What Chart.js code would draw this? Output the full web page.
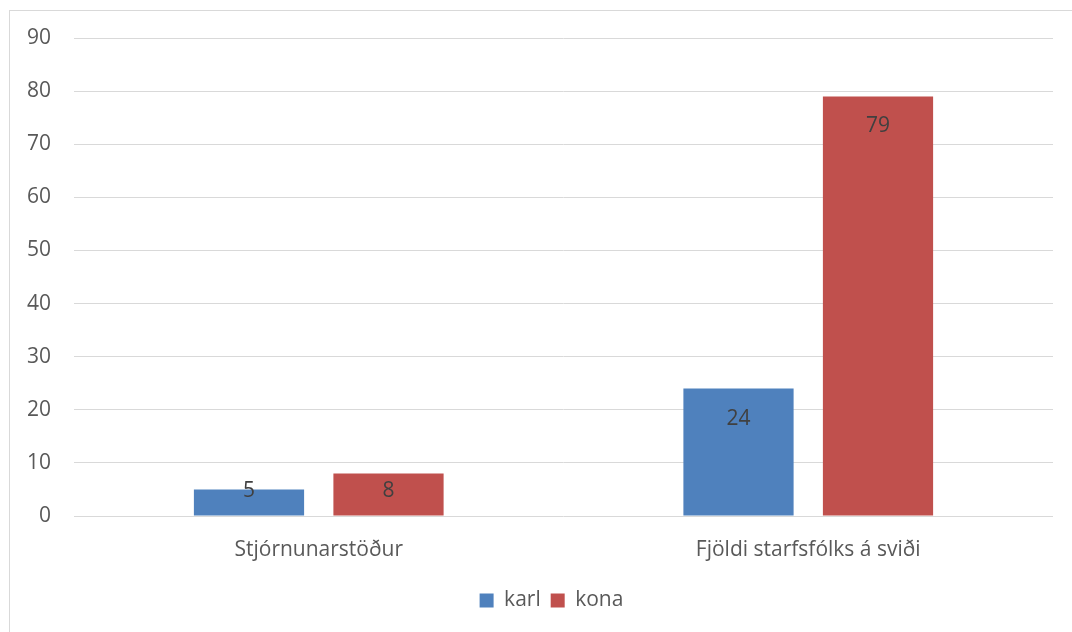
<!DOCTYPE html>
<html>
<head>
<meta charset="utf-8">
<script src="https://cdn.jsdelivr.net/npm/chart.js@4"></script>
<style>
  html, body { margin: 0; padding: 0; background: #fff; overflow: hidden; }
  #wrap { position: relative; width: 1072px; height: 632px; }
  #frame { position: absolute; left: 9px; top: 10px; width: 1100px; height: 700px; border: 1px solid #D9D9D9; box-sizing: border-box; }
  canvas { position: absolute; left: 0; top: 0; }
</style>
</head>
<body>
<div id="wrap">
  <div id="frame"></div>
  <canvas id="chart" width="1072" height="632"></canvas>
</div>
<script>
const categories = ['Stjórnunarstöður', 'Fjöldi starfsfólks á sviði'];
const karl = [5, 24];
const kona = [8, 79];
const yTicks = [0, 10, 20, 30, 40, 50, 60, 70, 80, 90];

const textColor = '#595959';
const fontFamily = "'Open Sans', 'Noto Sans', sans-serif";
const fontSize = 21;

// value labels near the inside top of each bar
const barLabels = {
    id: 'barLabels',
    afterDatasetsDraw(chart) {
        const ctx = chart.ctx;
        const base = chart.scales.y.getPixelForValue(0);
        ctx.save();
        ctx.fillStyle = '#404040';
        ctx.font = fontSize + 'px ' + fontFamily;
        ctx.textAlign = 'center';
        ctx.textBaseline = 'middle';
        chart.data.datasets.forEach((ds, i) => {
            chart.getDatasetMeta(i).data.forEach((bar, j) => {
                const y = Math.min(bar.y + 30, base - 25);
                ctx.fillText(String(ds.data[j]), bar.x, y);
            });
        });
        ctx.restore();
    }
};

// centre the legend under the plot area rather than the whole canvas
const legendShift = {
    id: 'legendShift',
    afterLayout(chart) {
        const lg = chart.legend;
        if (!lg) return;
        const dx = (chart.chartArea.left + chart.chartArea.right) / 2 - (lg.left + lg.right) / 2 - 12;
        lg.left += dx;
        lg.right += dx;
    }
};

new Chart(document.getElementById('chart').getContext('2d'), {
    type: 'bar',
    data: {
        labels: categories,
        datasets: [
            { label: 'karl', data: karl, backgroundColor: '#4F81BD' },
            { label: 'kona', data: kona, backgroundColor: '#C0504D' }
        ]
    },
    options: {
        responsive: false,
        animation: false,
        categoryPercentage: 0.57,
        barPercentage: 0.79,
        layout: { padding: { top: 38, right: 19, left: 0, bottom: 11 } },
        scales: {
            x: {
                grid: { display: false },
                border: { display: false },
                ticks: { color: textColor, font: { family: fontFamily, size: fontSize }, padding: 13 },
                afterFit(scale) { scale.height = 64; }
            },
            y: {
                min: 0,
                max: 90,
                afterBuildTicks(scale) { scale.ticks = yTicks.map(v => ({ value: v })); },
                grid: { color: '#D9D9D9', lineWidth: 1, drawTicks: false },
                border: { display: false },
                ticks: { color: textColor, font: { family: fontFamily, size: fontSize }, padding: 23 },
                afterFit(scale) { scale.width = 74; }
            }
        },
        plugins: {
            legend: {
                position: 'bottom',
                labels: {
                    color: textColor,
                    font: { family: fontFamily, size: fontSize },
                    boxWidth: 14,
                    boxHeight: 14,
                    padding: 10
                }
            },
            tooltip: { enabled: false }
        }
    },
    plugins: [barLabels, legendShift]
});
</script>
</body>
</html>
